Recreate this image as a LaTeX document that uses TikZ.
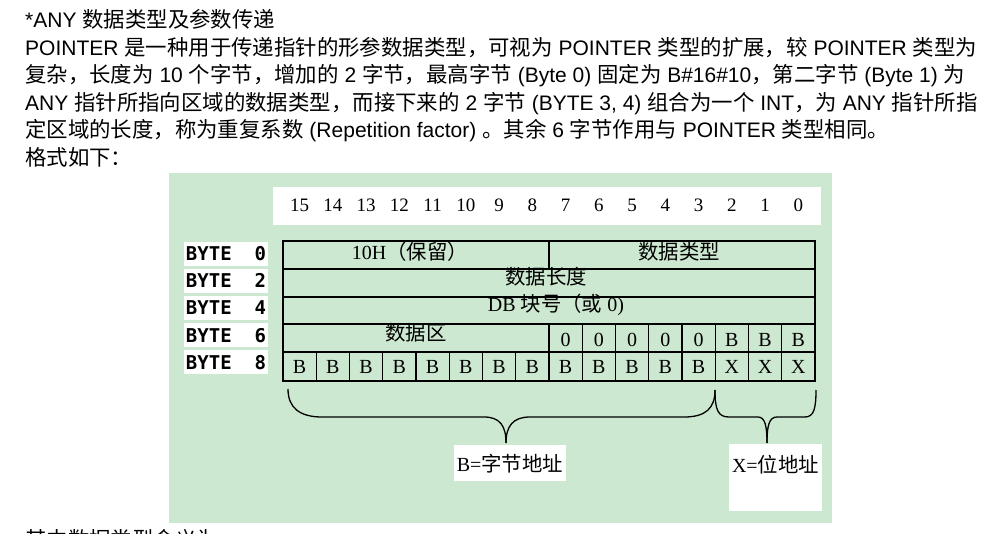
\documentclass[tikz,border=0pt]{standalone}
\usepackage{fontspec}
\usepackage{xcolor}
\usepackage{tikz}
\usetikzlibrary{positioning}
\setmainfont{Liberation Sans}
\newfontfamily\cjk[Scale=1.02]{Noto Sans CJK SC}
\newfontfamily\cellfont{Liberation Serif}
\newfontfamily\bytefont{DejaVu Sans Mono}
\definecolor{panelgreen}{HTML}{CDE8D0}
\newcommand{\zh}[1]{{\cjk #1}}

\begin{document}
\begin{tikzpicture}[
  x=1pt, y=-1pt,
  para/.style={anchor=base west, inner sep=0pt, font=\fontsize{21}{25}\selectfont},
  bitnum/.style={anchor=base, inner sep=0pt, font=\cellfont\fontsize{19}{20}\selectfont},
  cell/.style={anchor=base, inner sep=0pt, font=\cellfont\fontsize{20}{22}\selectfont},
  bytelbl/.style={fill=white, minimum width=84pt, minimum height=24pt, inner sep=0pt,
                  text height=14pt, text depth=0pt,
                  font=\bytefont\bfseries\fontsize{19}{20}\selectfont},
  lblbox/.style={fill=white, inner sep=0pt, font=\cellfont\fontsize{20}{22}\selectfont},
  grid/.style={line width=1.2pt},
  brace/.style={line width=1.3pt}
]
  \useasboundingbox (0,0) rectangle (998,534);
  \fill[white] (0,0) rectangle (998,534);

  % text above the figure
  \node[para] (title) at (25,28) {*ANY \zh{数据类型及参数传递}};
  \node[para] (line1) at (25,56) {POINTER \zh{是一种用于传递指针的形参数据类型，可视为} POINTER \zh{类型的扩展，较} POINTER \zh{类型为}};
  \node[para] (line2) at (25,83) {\zh{复杂，长度为} 10 \zh{个字节，增加的} 2 \zh{字节，最高字节} (Byte 0) \zh{固定为} B\#16\#10\zh{，第二字节} (Byte 1) \zh{为}};
  \node[para] (line3) at (25,111) {ANY \zh{指针所指向区域的数据类型，而接下来的} 2 \zh{字节} (BYTE 3, 4) \zh{组合为一个} INT\zh{，为} ANY \zh{指针所指}};
  \node[para] (line4) at (25,138) {\zh{定区域的长度，称为重复系数} (Repetition factor) \zh{。其余} 6 \zh{字节作用与} POINTER \zh{类型相同。}};
  \node[para] (line5) at (25,166) {\zh{格式如下：}};

  % panel
  \fill[panelgreen] (169,173) rectangle (832,523);
  \fill[white] (273,187) rectangle (821,225);

  % bit numbers
  \foreach \i in {0,...,15} {
    \pgfmathtruncatemacro\bit{15-\i}
    \node[bitnum] (bit\bit) at ({283+33.25*(\i+0.5)},212) {\bit};
  }

  % byte labels
  \foreach \n/\y in {0/254,2/281,4/308,6/335.5,8/362}
    \node[bytelbl] (byte\n) at (226,\y) {BYTE\ \ \n};

  % table
  \draw[grid] (283,241) rectangle (815,381);
  \foreach \y in {269,297,324,352}
    \draw[grid] (283,\y) -- (815,\y);
  \draw[grid] (549,241) -- (549,269);
  \foreach \i in {9,...,15}
    \draw[grid] ({283+33.25*\i},324) -- ({283+33.25*\i},352);
  \draw[grid] (549,324) -- (549,352);
  \foreach \i in {1,...,15}
    \draw[grid] ({283+33.25*\i},352) -- ({283+33.25*\i},381);

  \node[cell] (rsv)   at (410,260) {10H\zh{（保留）}};
  \node[cell] (dtype) at (679,260) {\zh{数据类型}};
  \node[cell] (dlen)  at (546,285) {\zh{数据长度}};
  \node[cell] (dbno)  at (556,312) {DB \zh{块号（或} 0)};
  \node[cell] (area)  at (416,341) {\zh{数据区}};
  \foreach \i/\t in {8/0,9/0,10/0,11/0,12/0,13/B,14/B,15/B}
    \node[cell] (a\i) at ({283+33.25*(\i+0.5)},347) {\t};
  \foreach \i in {0,...,12}
    \node[cell] (p\i) at ({283+33.25*(\i+0.5)},373) {B};
  \foreach \i in {13,14,15}
    \node[cell] (p\i) at ({283+33.25*(\i+0.5)},373) {X};

  % labels under the braces
  \node[lblbox, minimum width=112pt, minimum height=36pt, anchor=north] (blabel) at (510,445) {B=\zh{字节地址}};
  \node[lblbox, minimum width=93pt, anchor=north, text height=28pt, text depth=39pt] (xlabel) at (775.5,444) {X=\zh{位地址}};

  \coordinate (bapex) at (506,443);
  \coordinate (xapex) at (767,443);

  % braces
  \draw[brace] (288,389) .. controls (288,408) and (300,417) .. (322,417) -- (484,417)
    .. controls (500,417) and (506,426) .. (bapex);
  \draw[brace] (bapex) .. controls (506,426) and (513,417) .. (530,417) -- (684,417)
    .. controls (706,417) and (715,408) .. (715,390);
  \draw[brace] (715,390) .. controls (715,410) and (718,417) .. (729,417) -- (758,417)
    .. controls (765,417) and (767,426) .. (xapex);
  \draw[brace] (xapex) .. controls (767,426) and (769,417) .. (777,417) -- (805,417)
    .. controls (814,417) and (816,408) .. (816,390);

  % next line, cut by the page edge
  \node[para] (line6) at (25,547) {\zh{其中数据类型含义为}};
\end{tikzpicture}
\end{document}
